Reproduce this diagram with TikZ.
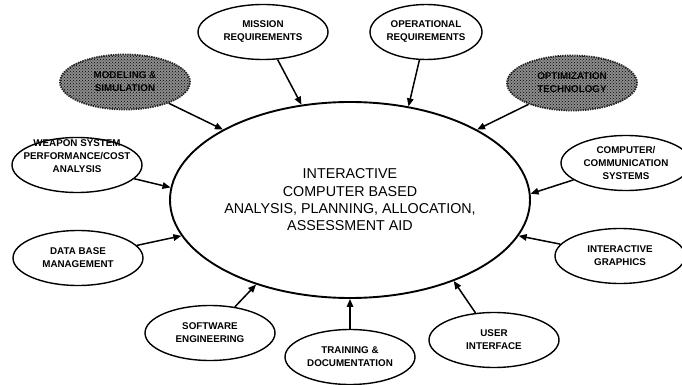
\documentclass[tikz,border=0pt]{standalone}
\usepackage{fontspec}
\setmainfont{Liberation Sans}
\usetikzlibrary{shapes.geometric,arrows.meta,patterns}

\tikzset{
  topic/.style={ellipse, draw=black, line width=1.4pt, inner sep=0pt,
    minimum width=130pt, minimum height=55pt, align=center,
    font=\bfseries\fontsize{9.8}{13}\selectfont},
  shaded/.style={topic, draw=black!85, densely dotted, line width=1.8pt,
    preaction={fill=black!45}, pattern=crosshatch dots, pattern color=black},
  caption/.style={align=center, inner sep=0pt,
    font=\bfseries\fontsize{9.8}{13}\selectfont},
  hub/.style={ellipse, draw=black, line width=1.9pt, inner sep=0pt,
    minimum width=360pt, minimum height=196pt, align=center,
    font=\fontsize{14.3}{17.3}\selectfont},
  feed/.style={line width=1.5pt, -{Triangle[length=8pt,width=6.5pt]}}
}

\begin{document}
\begin{tikzpicture}[x=1pt, y=-1pt]
  \useasboundingbox (0,0) rectangle (682,385);

  % central aid
  \node[hub] (aid) at (350,200)
    {INTERACTIVE\\COMPUTER BASED\\ANALYSIS, PLANNING, ALLOCATION,\\ASSESSMENT AID};

  % contributing topics
  \node[topic] (mission) at (263,32) {MISSION\\REQUIREMENTS};
  \node[topic, minimum width=112pt] (oper) at (426,32) {OPERATIONAL\\REQUIREMENTS};
  \node[shaded] (model) at (125,82) {MODELING \&\\SIMULATION};
  \node[shaded] (optim) at (572,83) {OPTIMIZATION\\TECHNOLOGY};
  \node[topic] (weapon) at (77,165) {};
  \node[caption] (weapontext) at (77,156) {WEAPON SYSTEM\\PERFORMANCE/COST\\ANALYSIS};
  \node[topic] (dbm) at (78,258) {DATA BASE\\MANAGEMENT};
  \node[topic] (soft) at (210,333) {SOFTWARE\\ENGINEERING};
  \node[topic] (train) at (350,357) {TRAINING \&\\DOCUMENTATION};
  \node[topic] (user) at (494,340) {USER\\INTERFACE};
  \node[topic] (graph) at (620,256) {INTERACTIVE\\GRAPHICS};
  \node[topic] (comm) at (626,163) {COMPUTER/\\COMMUNICATION\\SYSTEMS};

  % connectors into the central aid
  \draw[feed] (mission) -- (aid.117.5);
  \draw[feed] (oper) -- (aid.58.6);
  \draw[feed] (model) -- (aid.151.8);
  \draw[feed] (optim) -- (aid.29.3);
  \draw[feed] (weapon) -- (aid.176.9);
  \draw[feed] (dbm) -- (aid.192.3);
  \draw[feed] (soft) -- (aid.222);
  \draw[feed] (train) -- (aid.270);
  \draw[feed] (user) -- (aid.322.9);
  \draw[feed] (graph) -- (aid.348.2);
  \draw[feed] (comm) -- (aid.2.3);
\end{tikzpicture}
\end{document}
